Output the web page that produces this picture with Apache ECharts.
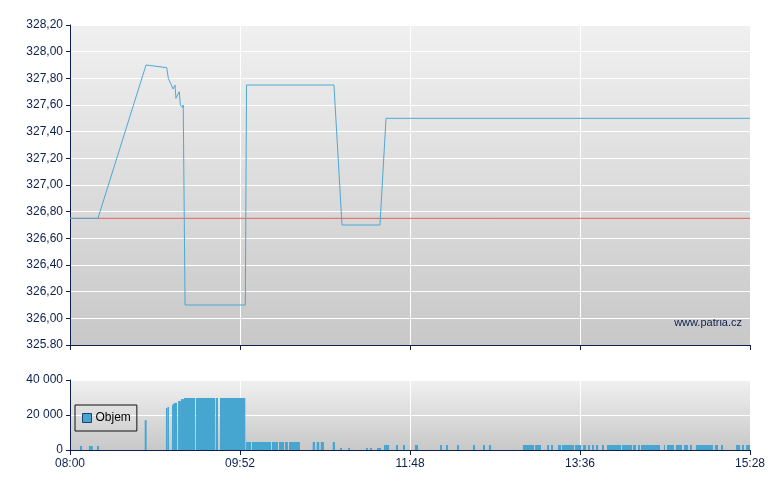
<!DOCTYPE html>
<html>
<head>
<meta charset="utf-8">
<script src="https://cdn.jsdelivr.net/npm/echarts@6/dist/echarts.min.js"></script>
<style>html,body{margin:0;padding:0;background:#fff}#c{width:780px;height:490px}</style>
</head>
<body>
<div id="c"></div>
<script>
// x values are minutes from 08:00 along the chart's time axis
var xTickLabels = ['08:00', '09:52', '11:48', '13:36', '15:28'];
var priceTickLabels = ['325.80','326,00','326,20','326,40','326,60','326,80','327,00','327,20','327,40','327,60','327,80','328,00','328,20'];
var volTickLabels = ['0', '20 000', '40 000'];
var prevClose = 326.75;

var priceTimes  = [0, 18.4, 50.1, 63.7, 64.8, 67.9, 69.2, 69.8, 72.0, 72.7, 74.2, 74.6, 75.8, 115.5, 116.3, 173.9, 179.2, 204.2, 208.2, 448];
var priceValues = [326.75, 326.75, 327.90, 327.88, 327.80, 327.72, 327.75, 327.65, 327.70, 327.60, 327.58, 327.60, 326.10, 326.10, 327.75, 327.75, 326.70, 326.70, 327.50, 327.50];

// volume bars: start minute, end minute, volume
var volStart = [6.6, 12.5, 17.8, 49.2, 63.2, 64.2, 67.2, 67.9, 68.5, 71.2, 73.1, 75.1, 83.0, 96.2, 98.8,
  116.0, 119.9, 133.1, 137.7, 141.6, 144.3, 159.9, 162.5, 165.2, 173.1, 177.9, 183.2, 195.0, 197.6, 202.3,
  206.9, 214.8, 219.4, 227.3, 243.8, 247.7, 255.0, 265.5, 272.1, 276.0,
  298.4, 306.4, 314.3, 316.9, 321.5, 324.1, 332.7, 338.0, 341.3, 343.9, 346.5, 350.5, 353.8, 363.7, 370.9,
  374.2, 376.2, 391.3, 393.3, 399.2, 404.5, 408.5, 412.4, 424.9, 428.9, 438.8, 442.7, 445.4];
var volEnd = [7.9, 15.0, 19.1, 50.5, 64.2, 65.2, 67.9, 68.5, 70.5, 73.1, 75.1, 82.4, 95.7, 97.5, 115.5,
  119.3, 132.4, 137.0, 141.0, 143.6, 151.5, 161.4, 164.2, 167.3, 174.6, 179.2, 184.5, 196.3, 199.0, 204.9,
  210.2, 216.1, 220.7, 229.3, 245.1, 249.0, 256.3, 266.8, 273.4, 277.4,
  305.7, 310.3, 315.6, 318.2, 323.5, 332.0, 336.7, 340.0, 342.6, 345.2, 347.9, 351.8, 363.0, 370.3, 372.9,
  375.5, 388.7, 392.0, 397.9, 403.2, 407.2, 409.8, 423.6, 426.9, 430.2, 441.4, 444.0, 448];
var volValues = [2300, 2300, 2300, 17000, 24000, 24600, 25900, 26500, 26900, 28000, 29100, 29700, 29700, 29700, 29700,
  4570, 4570, 4570, 4570, 4570, 4570, 4570, 4570, 4570, 4570, 1140, 1140, 1140, 1140, 1140,
  2860, 2860, 2860, 2860, 2860, 2860, 2860, 2860, 2860, 2860,
  2860, 2860, 2860, 2860, 2860, 2860, 2860, 2860, 2860, 2860, 2860, 2860, 2860, 2860, 2860,
  2860, 2860, 2860, 2860, 2860, 2860, 2860, 2860, 2860, 2860, 2860, 2860, 2860];

var navy = '#0c1f4f';
var font = 'Liberation Sans, Arial, sans-serif';
var bg = new echarts.graphic.LinearGradient(0, 0, 0, 1, [{offset: 0, color: '#f0f0f0'}, {offset: 1, color: '#c8c8c8'}]);

var priceData = priceTimes.map(function (t, i) { return [t, priceValues[i]]; });
var volData = volStart.map(function (s, i) { return [s, volEnd[i], volValues[i]]; });

var chart = echarts.init(document.getElementById('c'), null, {renderer: 'canvas'});
chart.setOption({
  animation: false,
  textStyle: {fontFamily: font},
  grid: [
    {left: 70, right: 30, top: 25, height: 320, show: true, backgroundColor: bg, borderWidth: 0, containLabel: false},
    {left: 70, right: 30, top: 380, height: 70, show: true, backgroundColor: bg, borderWidth: 0, containLabel: false}
  ],
  legend: {
    left: 75, top: 405, width: 60,
    padding: [7, 6, 7, 7],
    borderColor: '#111', borderWidth: 1, borderRadius: 0,
    itemWidth: 9, itemHeight: 9, itemGap: 4,
    textStyle: {color: '#000', fontSize: 12, fontFamily: font, padding: [0, 0, 0, -1]},
    data: [{name: 'Objem', icon: 'rect', itemStyle: {color: '#46a6d0', borderColor: '#1c3f70', borderWidth: 1}}]
  },
  graphic: [{
    type: 'text', right: 38, top: 317,
    style: {text: 'www.patria.cz', fill: navy, font: '11px ' + font}
  }],
  xAxis: [
    {
      type: 'value', gridIndex: 0, min: 0, max: 448, interval: 112,
      axisLine: {show: true, onZero: false, lineStyle: {color: navy, width: 1}},
      axisTick: {show: true, length: 5, lineStyle: {color: navy}},
      axisLabel: {show: false},
      splitLine: {show: true, lineStyle: {color: '#ffffff', width: 1}}
    },
    {
      type: 'value', gridIndex: 1, min: 0, max: 448, interval: 112,
      axisLine: {show: true, onZero: false, lineStyle: {color: navy, width: 1}},
      axisTick: {show: true, length: 5, lineStyle: {color: navy}},
      axisLabel: {show: true, color: navy, fontSize: 12, margin: 8, fontFamily: font,
        formatter: function (v) { return xTickLabels[Math.round(v / 112)]; }},
      splitLine: {show: true, lineStyle: {color: '#ffffff', width: 1}}
    }
  ],
  yAxis: [
    {
      type: 'value', gridIndex: 0, min: 325.8, max: 328.2, interval: 0.2,
      axisLine: {show: true, lineStyle: {color: navy, width: 1}},
      axisTick: {show: true, length: 4, lineStyle: {color: navy}},
      axisLabel: {color: navy, fontSize: 12, margin: 7, fontFamily: font,
        formatter: function (v) { return priceTickLabels[Math.round((v - 325.8) / 0.2)]; }},
      splitLine: {show: true, lineStyle: {color: '#ffffff', width: 1}}
    },
    {
      type: 'value', gridIndex: 1, min: 0, max: 40000, interval: 20000,
      axisLine: {show: true, lineStyle: {color: navy, width: 1}},
      axisTick: {show: true, length: 4, lineStyle: {color: navy}},
      axisLabel: {color: navy, fontSize: 12, margin: 7, fontFamily: font,
        formatter: function (v) { return volTickLabels[Math.round(v / 20000)]; }},
      splitLine: {show: true, lineStyle: {color: '#ffffff', width: 1}}
    }
  ],
  series: [
    {
      name: 'prev', type: 'line', xAxisIndex: 0, yAxisIndex: 0, symbol: 'none', silent: true,
      lineStyle: {color: '#e86060', width: 1},
      data: [[0, prevClose], [448, prevClose]]
    },
    {
      name: 'Cena', type: 'line', xAxisIndex: 0, yAxisIndex: 0, symbol: 'none',
      lineStyle: {color: '#4da9d3', width: 1},
      data: priceData
    },
    {
      name: 'Objem', type: 'custom', xAxisIndex: 1, yAxisIndex: 1,
      itemStyle: {color: '#46a6d0'},
      encode: {x: [0, 1], y: 2},
      renderItem: function (params, api) {
        var p0 = api.coord([api.value(0), api.value(2)]);
        var p1 = api.coord([api.value(1), 0]);
        return {
          type: 'rect',
          shape: {x: p0[0], y: p0[1], width: Math.max(p1[0] - p0[0], 1), height: p1[1] - p0[1]},
          style: {fill: '#46a6d0'}
        };
      },
      data: volData
    }
  ]
});
</script>
</body>
</html>
